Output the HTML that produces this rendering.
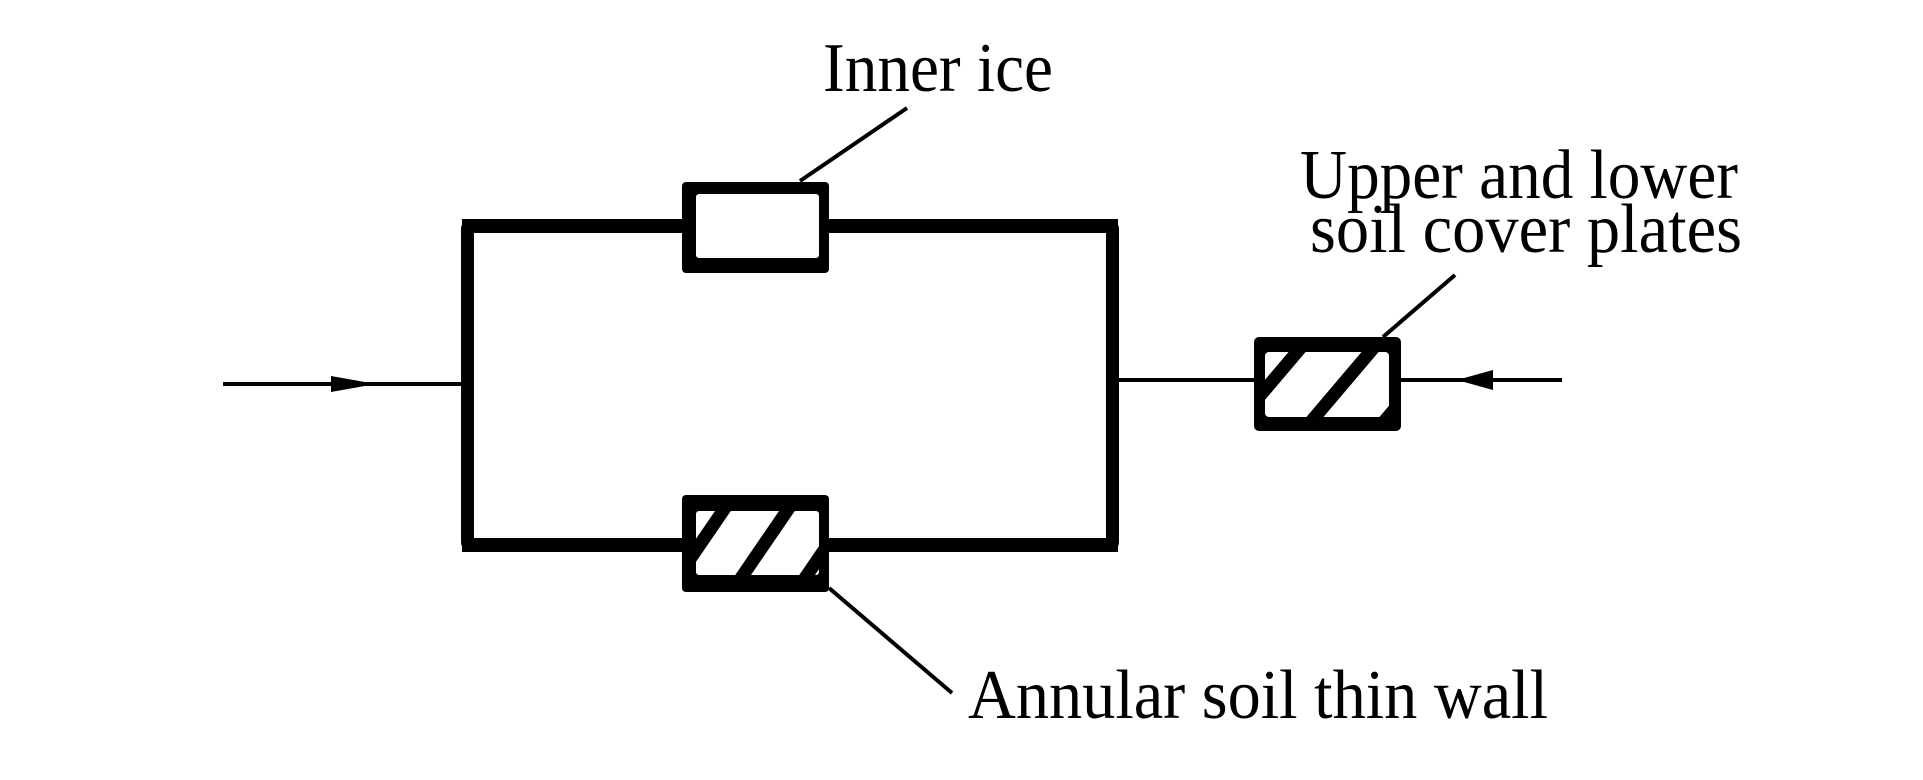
<!DOCTYPE html>
<html><head><meta charset="utf-8"><style>
html,body{margin:0;padding:0;background:#fff;}
svg{display:block;}
text{font-family:"Liberation Serif",serif;font-size:70px;fill:#000;}
</style></head><body>
<svg width="1923" height="780" viewBox="0 0 1923 780" xmlns="http://www.w3.org/2000/svg">
<defs>
<clipPath id="c1"><rect x="696" y="511" width="123" height="64"/></clipPath>
<clipPath id="c2"><rect x="1265" y="352" width="124" height="65"/></clipPath>
</defs>
<!-- main frame -->
<rect x="467.5" y="226" width="645" height="319" fill="none" stroke="#000" stroke-width="13" rx="3"/>
<rect x="462" y="219" width="656" height="14" fill="#000"/>
<rect x="462" y="538" width="656" height="14" fill="#000"/>
<!-- inner ice box -->
<rect x="682" y="182" width="147" height="91" rx="4" fill="#000"/>
<rect x="696" y="194" width="123" height="64" rx="3" fill="#fff"/>
<!-- lower box -->
<rect x="682" y="495" width="147" height="97" rx="4" fill="#000"/>
<rect x="696" y="511" width="123" height="64" rx="3" fill="#fff"/>
<g clip-path="url(#c1)" stroke="#000" stroke-width="13">
<line x1="727" y1="505" x2="675" y2="581"/>
<line x1="791" y1="505" x2="739" y2="581"/>
<line x1="855" y1="505" x2="803" y2="581"/>
</g>
<!-- input line left -->
<line x1="223" y1="384" x2="462" y2="384" stroke="#000" stroke-width="4"/>
<polygon points="376,384 331,376 331,392" fill="#000"/>
<!-- right line -->
<line x1="1118" y1="380" x2="1254" y2="380" stroke="#000" stroke-width="4"/>
<line x1="1401" y1="380" x2="1562" y2="380" stroke="#000" stroke-width="4"/>
<polygon points="1457,380 1493,370 1493,390" fill="#000"/>
<!-- right box -->
<rect x="1254" y="337" width="147" height="94" rx="5" fill="#000"/>
<rect x="1265" y="352" width="124" height="65" rx="4" fill="#fff"/>
<g clip-path="url(#c2)" stroke="#000" stroke-width="13">
<line x1="1303" y1="345" x2="1236" y2="424"/>
<line x1="1376" y1="345" x2="1309" y2="424"/>
<line x1="1449" y1="345" x2="1382" y2="424"/>
</g>
<!-- leaders -->
<line x1="800" y1="181" x2="907" y2="108" stroke="#000" stroke-width="4"/>
<line x1="1383" y1="337" x2="1455" y2="275" stroke="#000" stroke-width="4"/>
<line x1="829" y1="588" x2="952" y2="693" stroke="#000" stroke-width="4"/>
<!-- labels -->
<text x="823" y="91" textLength="230" lengthAdjust="spacingAndGlyphs">Inner ice</text>
<text x="1300" y="198" textLength="438" lengthAdjust="spacingAndGlyphs">Upper and lower</text>
<text x="1310" y="252" textLength="432" lengthAdjust="spacingAndGlyphs">soil cover plates</text>
<text x="968" y="718" textLength="580" lengthAdjust="spacingAndGlyphs">Annular soil thin wall</text>
</svg>
</body></html>
